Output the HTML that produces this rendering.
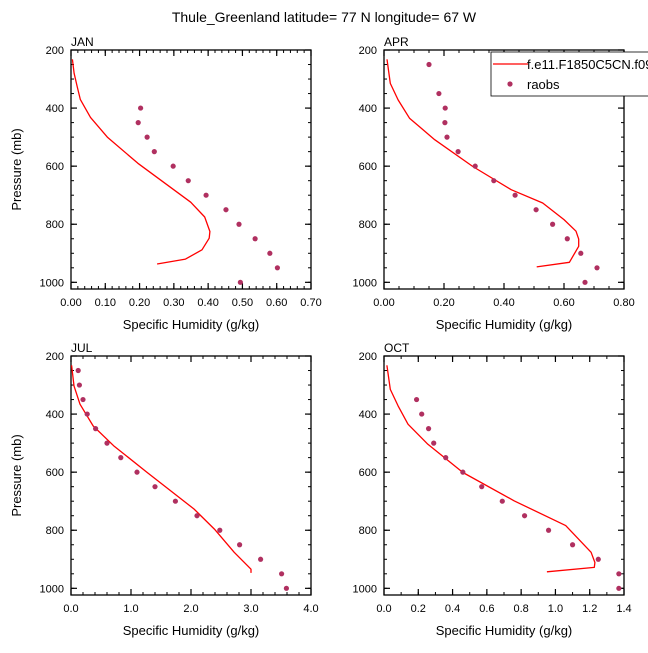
<!DOCTYPE html>
<html><head><meta charset="utf-8"><style>
body{margin:0;background:#fff;}
svg text{font-family:"Liberation Sans",sans-serif;fill:#000;}
</style></head><body>
<svg id="chart" width="648" height="648" viewBox="0 0 648 648">
<text x="324" y="22" font-size="14" text-anchor="middle">Thule_Greenland  latitude= 77 N longitude= 67 W</text>
</svg>
<script>
// ---- data ----
const janModelP=[232,280,326,370,432,500,590,724,775,825,848,888,920,937];
const janModelQ=[0.004,0.009,0.018,0.027,0.057,0.106,0.195,0.349,0.390,0.405,0.403,0.382,0.334,0.251];
const janObsP=[400,450,500,550,600,650,700,750,800,850,900,950,1000];
const janObsQ=[0.203,0.196,0.222,0.243,0.298,0.342,0.394,0.452,0.490,0.537,0.580,0.602,0.494];
const aprModelP=[232,315,372,435,509,601,681,727,784,824,851,876,931,947];
const aprModelQ=[0.010,0.021,0.047,0.085,0.169,0.296,0.424,0.529,0.600,0.640,0.649,0.649,0.618,0.509];
const aprObsP=[250,350,400,450,500,550,600,650,700,750,800,850,900,950,1000];
const aprObsQ=[0.150,0.183,0.204,0.203,0.210,0.247,0.304,0.366,0.437,0.507,0.562,0.611,0.656,0.710,0.670];
const julModelP=[232,303,366,441,509,601,727,796,876,934,947];
const julModelQ=[0.01,0.05,0.15,0.37,0.71,1.27,2.05,2.39,2.72,3.0,3.0];
const julObsP=[250,300,350,400,450,500,550,600,650,700,750,800,850,900,950,1000];
const julObsQ=[0.12,0.14,0.20,0.27,0.41,0.60,0.83,1.10,1.40,1.74,2.10,2.48,2.81,3.16,3.51,3.59];
const octModelP=[232,315,372,435,504,601,699,784,876,911,928,943];
const octModelQ=[0.017,0.037,0.082,0.14,0.256,0.46,0.76,1.06,1.208,1.23,1.227,0.95];
const octObsP=[350,400,450,500,550,600,650,700,750,800,850,900,950,1000];
const octObsQ=[0.19,0.22,0.26,0.29,0.36,0.46,0.57,0.69,0.82,0.96,1.10,1.25,1.37,1.37];
const pTicks=[200,400,600,800,1000];
const janXTicks=["0.00","0.10","0.20","0.30","0.40","0.50","0.60","0.70"];
const aprXTicks=["0.00","0.20","0.40","0.60","0.80"];
const julXTicks=["0.0","1.0","2.0","3.0","4.0"];
const octXTicks=["0.0","0.2","0.4","0.6","0.8","1.0","1.2","1.4"];

const svg=document.getElementById('chart');
const NS='http://www.w3.org/2000/svg';
function mk(tag,attrs,parent){const e=document.createElementNS(NS,tag);for(const k in attrs)e.setAttribute(k,attrs[k]);(parent||svg).appendChild(e);return e;}

function panel(name,L,T,xmax,xTicks,minorStep,mP,mQ,oP,oQ,showYTitle){
  const R=L+240,B=T+239,pmin=200,pmax=1023;
  const g=mk('g',{});
  
  
  const xs=v=>L+(v/xmax)*(R-L);
  const ys=p=>T+(p-pmin)/(pmax-pmin)*(B-T);
  for(let v=0;v<=xmax+1e-9;v+=minorStep){const x=xs(v);
    mk('line',{x1:x,x2:x,y1:T,y2:T+3,stroke:'#000','stroke-width':1},g);
    mk('line',{x1:x,x2:x,y1:B,y2:B-3,stroke:'#000','stroke-width':1},g);}
  for(let p=250;p<pmax;p+=50){const y=ys(p);
    mk('line',{x1:L,x2:L+3,y1:y,y2:y,stroke:'#000','stroke-width':1},g);
    mk('line',{x1:R,x2:R-3,y1:y,y2:y,stroke:'#000','stroke-width':1},g);}
  xTicks.forEach(t=>{const x=xs(parseFloat(t));
    mk('line',{x1:x,x2:x,y1:T,y2:T+6,stroke:'#000','stroke-width':1.2},g);
    mk('line',{x1:x,x2:x,y1:B,y2:B-6,stroke:'#000','stroke-width':1.2},g);
    const tx=mk('text',{x:x,y:B+17,'font-size':11,'text-anchor':'middle'},g);tx.textContent=t;
    
    });
  pTicks.forEach(p=>{const y=ys(p);
    mk('line',{x1:L,x2:L+6,y1:y,y2:y,stroke:'#000','stroke-width':1.2},g);
    mk('line',{x1:R,x2:R-6,y1:y,y2:y,stroke:'#000','stroke-width':1.2},g);
    const tx=mk('text',{x:L-7,y:y+4,'font-size':11,'text-anchor':'end'},g);tx.textContent=p;
    
    });
  mk('rect',{x:L,y:T,width:R-L,height:B-T,fill:'none',stroke:'#000','stroke-width':1.3},g);
  const lbl=mk('text',{x:L,y:T-4,'font-size':12},g);lbl.textContent=name.toUpperCase();
  
  
  const xt=mk('text',{x:(L+R)/2,y:B+40,'font-size':13,'text-anchor':'middle'},g);xt.textContent='Specific Humidity (g/kg)';
  
  
  if(showYTitle){const yt=mk('text',{x:0,y:0,'font-size':13,'text-anchor':'middle',transform:`translate(${L-50},${(T+B)/2}) rotate(-90)`},g);yt.textContent='Pressure (mb)';
    
    }
  const pts=mP.map((p,i)=>xs(mQ[i]).toFixed(1)+','+ys(p).toFixed(1)).join(' ');
  const ln=mk('polyline',{points:pts,fill:'none',stroke:'#ff0000','stroke-width':1.3,'stroke-linejoin':'round'},g);
  
  
  oP.forEach((p,i)=>{const c=mk('circle',{cx:xs(oQ[i]),cy:ys(p),r:2.6,fill:'#b03060'},g);
    
    });
}
panel('jan',71,50,0.70,janXTicks,0.02,janModelP,janModelQ,janObsP,janObsQ,true);
panel('apr',384,50,0.80,aprXTicks,0.05,aprModelP,aprModelQ,aprObsP,aprObsQ,false);
panel('jul',71,356,4.0,julXTicks,0.2,julModelP,julModelQ,julObsP,julObsQ,true);
panel('oct',384,356,1.4,octXTicks,0.1,octModelP,octModelQ,octObsP,octObsQ,false);

const lg=mk('g',{});


mk('rect',{x:491,y:52,width:170,height:44,fill:'#fff',stroke:'#000','stroke-width':0.8},lg);
mk('line',{x1:493,x2:528,y1:64,y2:64,stroke:'#ff0000','stroke-width':1.3},lg);
const l1=mk('text',{x:527,y:69,'font-size':13},lg);l1.textContent='f.e11.F1850C5CN.f09';


mk('circle',{cx:510,cy:84,r:2.6,fill:'#b03060'},lg);
const l2=mk('text',{x:527,y:89,'font-size':13},lg);l2.textContent='raobs';


</script>
</body></html>
